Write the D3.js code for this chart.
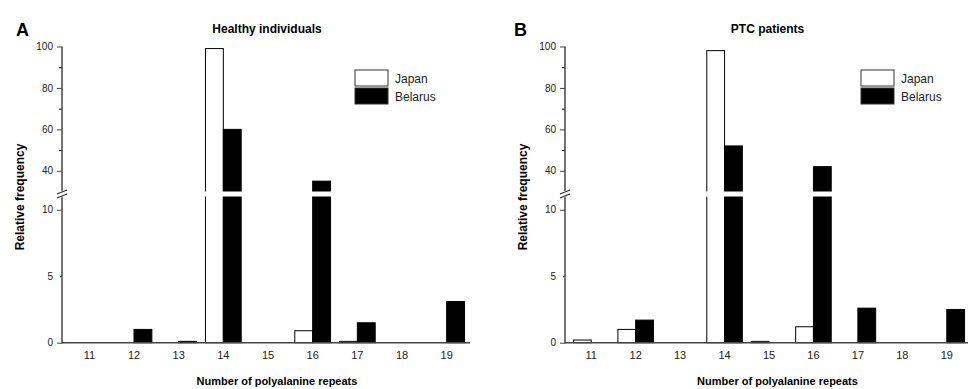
<!DOCTYPE html>
<html>
<head>
<meta charset="utf-8">
<script src="https://cdn.jsdelivr.net/npm/d3@7"></script>
<style>
  body { margin: 0; background: #fff; }
  svg { font-family: "Liberation Sans", Arial, sans-serif; }
</style>
</head>
<body>
<div id="vis"></div>
<script>
// Data
const REPEATS = ["11", "12", "13", "14", "15", "16", "17", "18", "19"];
const SERIES = ["Japan", "Belarus"];
const HEALTHY_JAPAN   = [0, 0, 0, 99, 0, 0.9, 0.1, 0, 0];
const HEALTHY_BELARUS = [0, 1.0, 0.1, 60, 0, 35, 1.5, 0, 3.1];
const PTC_JAPAN   = [0.2, 1.0, 0, 98, 0.1, 1.2, 0, 0, 0];
const PTC_BELARUS = [0, 1.7, 0, 52, 0, 42, 2.6, 0, 2.5];
const LOWER_TICKS = [0, 5, 10];
const UPPER_TICKS = [40, 60, 80, 100];
const UPPER_MINOR = [50, 70, 90];

// Frame
const FRAME_WIDTH = 968;
const FRAME_HEIGHT = 389;
const Y_BOTTOM = 342.7;

const svg = d3.select("#vis")
  .append("svg")
    .attr("width", FRAME_WIDTH)
    .attr("height", FRAME_HEIGHT);

// broken y scale: lower part 0-11, upper part 30-100
const Y_LOW = d3.scaleLinear().domain([0, 11]).range([Y_BOTTOM, 196.5]);
const Y_HIGH = d3.scaleLinear().domain([30, 100]).range([191.5, 46.5]);
function yScale(v) { return v <= 11 ? Y_LOW(v) : Y_HIGH(v); }

const panels = [
  { letter: "A", letterX: 16, title: "Healthy individuals", axisX: 62, xEnd: 470, range: [67, 469],
    japan: HEALTHY_JAPAN, belarus: HEALTHY_BELARUS, legendX: 355 },
  { letter: "B", letterX: 514, title: "PTC patients", axisX: 565, xEnd: 968, range: [569, 969],
    japan: PTC_JAPAN, belarus: PTC_BELARUS, legendX: 861 }
];

panels.forEach((p) => {
  const g = svg.append("g");

  const X_SCALE = d3.scaleBand()
    .domain(REPEATS)
    .range(p.range)
    .paddingInner(0.2)
    .paddingOuter(0.1);

  const X_SUB = d3.scaleBand()
    .domain(SERIES)
    .range([0, X_SCALE.bandwidth()]);

  const rows = REPEATS.map((r, i) => ({ repeat: r, Japan: p.japan[i], Belarus: p.belarus[i] }));

  // bars
  rows.forEach((d) => {
    SERIES.forEach((s) => {
      if (d[s] <= 0) return;
      g.append("rect")
        .attr("x", X_SCALE(d.repeat) + X_SUB(s))
        .attr("y", yScale(d[s]))
        .attr("width", X_SUB.bandwidth())
        .attr("height", Y_BOTTOM - yScale(d[s]))
        .attr("fill", s == "Japan" ? "#fff" : "#000")
        .attr("stroke", "#000")
        .attr("stroke-width", 1);
    });
  });

  // white gap where the axis is broken
  g.append("rect")
    .attr("x", p.axisX + 1)
    .attr("y", Y_HIGH(30))
    .attr("width", p.xEnd - p.axisX)
    .attr("height", Y_LOW(11) - Y_HIGH(30))
    .attr("fill", "#fff");

  // x axis
  g.append("g")
    .attr("transform", "translate(0," + Y_BOTTOM + ")")
    .call(d3.axisBottom(X_SCALE).tickSize(0).tickPadding(9))
    .call(a => a.select(".domain").remove())
    .attr("font-size", "11px")
    .attr("font-family", "Liberation Sans, Arial, sans-serif")
    .selectAll("text").attr("fill", "#222");

  g.append("line")
    .attr("x1", p.axisX).attr("x2", p.xEnd)
    .attr("y1", Y_BOTTOM).attr("y2", Y_BOTTOM)
    .attr("stroke", "#444").attr("stroke-width", 1.5);

  // y axis, lower and upper pieces
  const yLowAxis = g.append("g")
    .attr("transform", "translate(" + p.axisX + ",0)")
    .call(d3.axisLeft(Y_LOW).tickValues(LOWER_TICKS).tickSize(5).tickPadding(4))
    .attr("font-size", "10px");
  yLowAxis.select(".domain").remove();
  yLowAxis.selectAll(".tick").filter(d => d == 5).select("line").attr("x2", -2);

  const yHighAxis = g.append("g")
    .attr("transform", "translate(" + p.axisX + ",0)")
    .call(d3.axisLeft(Y_HIGH).tickValues(UPPER_TICKS).tickSize(5).tickPadding(4))
    .attr("font-size", "10px");
  yHighAxis.select(".domain").remove();

  g.append("g")
    .attr("transform", "translate(" + p.axisX + ",0)")
    .call(d3.axisLeft(Y_HIGH).tickValues(UPPER_MINOR).tickSize(3).tickFormat(""))
    .select(".domain").remove();

  [yLowAxis, yHighAxis].forEach(a => {
    a.selectAll("text").attr("fill", "#222").attr("font-family", "Liberation Sans, Arial, sans-serif");
    a.selectAll("line").attr("stroke", "#444");
  });

  g.append("line")
    .attr("x1", p.axisX).attr("x2", p.axisX)
    .attr("y1", Y_HIGH(100)).attr("y2", Y_BOTTOM + 0.7)
    .attr("stroke", "#444").attr("stroke-width", 1.5);

  // break mark on the y axis
  const yb = (Y_HIGH(30) + Y_LOW(11)) / 2;
  g.append("path")
    .attr("d", `M${p.axisX - 5},${yb - 1} L${p.axisX + 5},${yb - 5} L${p.axisX + 5},${yb + 1} L${p.axisX - 5},${yb + 5} Z`)
    .attr("fill", "#fff");
  [-2, 2].forEach(o => {
    g.append("line")
      .attr("x1", p.axisX - 5).attr("y1", yb + o + 2)
      .attr("x2", p.axisX + 5).attr("y2", yb + o - 2)
      .attr("stroke", "#333").attr("stroke-width", 1.2);
  });

  // legend
  SERIES.forEach((s, i) => {
    g.append("rect")
      .attr("x", p.legendX).attr("y", 70 + i * 18)
      .attr("width", 33).attr("height", 16)
      .attr("fill", s == "Japan" ? "#fff" : "#000")
      .attr("stroke", "#333").attr("stroke-width", 1);
    g.append("text")
      .attr("x", p.legendX + 40).attr("y", 83 + i * 18)
      .attr("font-size", "12px").attr("fill", "#222")
      .text(s);
  });

  // titles and labels
  const mid = (p.axisX + p.xEnd) / 2;
  g.append("text")
    .attr("x", mid + 1).attr("y", 33)
    .attr("text-anchor", "middle")
    .attr("font-size", "12px").attr("font-weight", "bold")
    .text(p.title);

  g.append("text")
    .attr("x", p.letterX).attr("y", 36)
    .attr("font-size", "18px").attr("font-weight", "bold")
    .text(p.letter);

  g.append("text")
    .attr("transform", "translate(" + (p.axisX - 38) + "," + 197 + ") rotate(-90)")
    .attr("text-anchor", "middle")
    .attr("font-size", "12px").attr("font-weight", "bold")
    .text("Relative frequency");

  g.append("text")
    .attr("x", mid + 11).attr("y", 385)
    .attr("text-anchor", "middle")
    .attr("font-size", "11px").attr("font-weight", "bold")
    .text("Number of polyalanine repeats");
});
</script>
</body>
</html>
